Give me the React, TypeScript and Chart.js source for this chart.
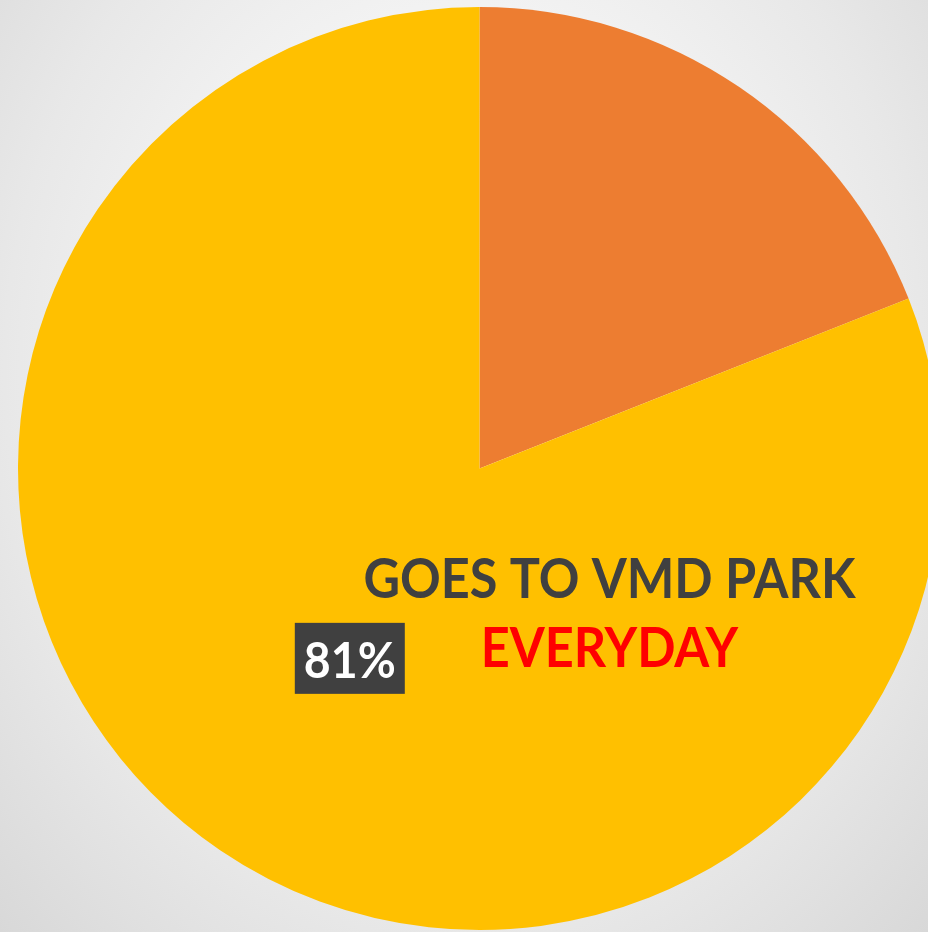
import React, { useEffect, useRef } from "react";
import { Chart, registerables } from "chart.js";

Chart.register(...registerables);

const categories = ["Other", "Goes to VMD Park everyday"];
const values = [19, 81];
const sliceColors = ["#ED7D31", "#FFC000"];
const percentLabels = ["", "81%"];
const titleLines = ["GOES TO VMD PARK", "EVERYDAY"];
const titleColors = ["#404040", "#FF0000"];

function drawCondensed(ctx: any, text: string, x: number, y: number, size: number, sx: number) {
  ctx.save();
  ctx.font = `bold ${size}px Lato`;
  ctx.translate(x, y);
  ctx.scale(sx, 1);
  ctx.fillText(text, 0, 0);
  ctx.restore();
}

const labelPlugin = {
  id: "customLabels",
  afterDatasetsDraw(chart: any) {
    const ctx = chart.ctx;
    const meta = chart.getDatasetMeta(0);
    const area = chart.chartArea;
    const cx = (area.left + area.right) / 2;
    const cy = (area.top + area.bottom) / 2;
    const r = Math.min(area.right - area.left, area.bottom - area.top) / 2;

    ctx.save();
    ctx.textAlign = "center";
    ctx.textBaseline = "middle";
    meta.data.forEach((arc: any, i: number) => {
      const txt = percentLabels[i];
      if (!txt) return;
      const pos = arc.tooltipPosition();
      const bw = 110;
      const bh = 71;
      ctx.fillStyle = "#404040";
      ctx.fillRect(pos.x - bw / 2, pos.y - bh / 2 - 1, bw, bh);
      ctx.fillStyle = "#FFFFFF";
      drawCondensed(ctx, txt, pos.x, pos.y + 3, 50, 0.93);
    });

    const tx = cx + r * 0.2817;
    const ys = [cy + r * 0.2394, cy + r * 0.388];
    ctx.fillStyle = titleColors[0];
    drawCondensed(ctx, titleLines[0], tx, ys[0] + 1, 56, 0.9);
    ctx.fillStyle = titleColors[1];
    drawCondensed(ctx, titleLines[1], tx, ys[1] + 1, 56, 0.9);
    ctx.restore();
  },
};

export default function App() {
  const ref = useRef<HTMLCanvasElement | null>(null);
  useEffect(() => {
    if (!ref.current) return;
    const chart = new Chart(ref.current, {
      type: "pie",
      data: {
        labels: categories,
        datasets: [
          {
            data: values,
            backgroundColor: sliceColors,
            borderWidth: 0,
          },
        ],
      },
      options: {
        responsive: false,
        animation: false,
        devicePixelRatio: 1,
        layout: { padding: { left: 18, right: 19, top: 7, bottom: 2 } },
        plugins: {
          legend: { display: false },
          tooltip: { enabled: false },
          title: { display: false },
        },
      },
      plugins: [labelPlugin],
    });
    return () => chart.destroy();
  }, []);

  return (
    <div
      style={{
        position: "fixed",
        top: 0,
        left: 0,
        width: 928,
        height: 932,
        overflow: "hidden",
        background:
          "radial-gradient(ellipse at 50% 40%, #ffffff 0%, #f7f7f7 35%, #e8e8e8 70%, #d8d8d8 100%)",
      }}
    >
      <canvas ref={ref} width={960} height={932} style={{ display: "block" }} />
    </div>
  );
}
